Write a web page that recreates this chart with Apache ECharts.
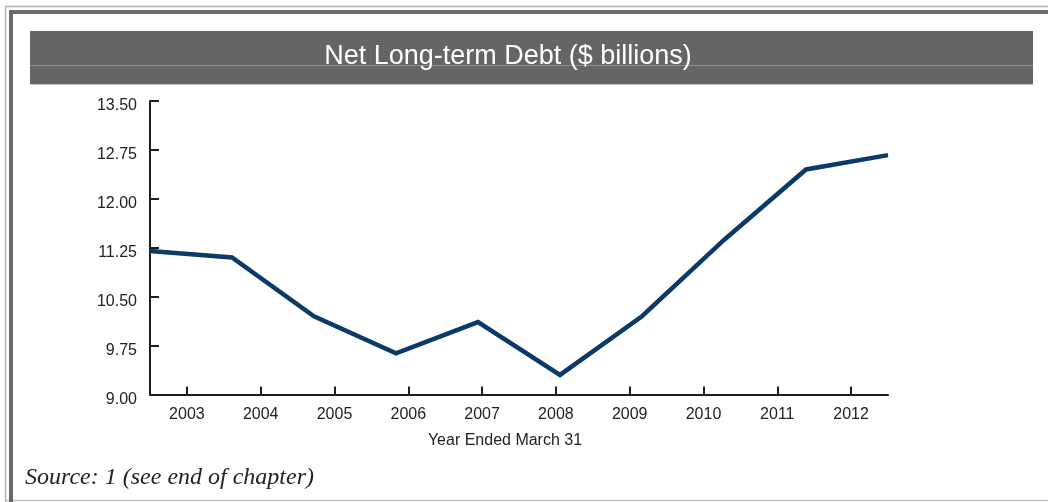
<!DOCTYPE html>
<html>
<head>
<meta charset="utf-8">
<style>
  html, body { margin: 0; padding: 0; background: #ffffff; }
  #chart { width: 1048px; height: 502px; }
</style>
<script src="https://cdn.jsdelivr.net/npm/echarts@6/dist/echarts.min.js"></script>
</head>
<body>
<div id="chart"></div>
<script>
// Fiscal years (year ended March 31)
const years = ['2003', '2004', '2005', '2006', '2007', '2008', '2009', '2010', '2011', '2012'];
// Net long-term debt, $ billions
const netDebt = [11.20, 11.10, 10.20, 9.63, 10.11, 9.30, 10.20, 11.37, 12.45, 12.67];
// Value axis range and step
const yMin = 9.00;
const yMax = 13.50;
const yStep = 0.75;

const titleText = 'Net Long-term Debt ($ billions)';
const axisTitle = 'Year Ended March 31';
const sourceText = 'Source: 1 (see end of chapter)';

const chart = echarts.init(document.getElementById('chart'), null, { renderer: 'canvas' });

const axisColor = '#1e1e1e';
const labelColor = '#222222';
const sansFont = '"Liberation Sans", Arial, Helvetica, sans-serif';

chart.setOption({
  animation: false,
  backgroundColor: '#ffffff',
  grid: { left: 150, right: 160, top: 101, bottom: 107.5, containLabel: false },
  xAxis: [
    {
      // visible axis: labels and ticks centred in each year band
      type: 'category',
      data: years,
      boundaryGap: true,
      axisLine: { show: true, lineStyle: { color: axisColor, width: 2 } },
      axisTick: { show: true, inside: true, alignWithLabel: true, length: 8, lineStyle: { color: axisColor, width: 2 } },
      axisLabel: { color: labelColor, fontSize: 16, fontFamily: sansFont, margin: 12 },
      splitLine: { show: false }
    },
    {
      // line series spans the full width, one point per year
      type: 'category',
      data: years,
      boundaryGap: false,
      show: false,
      position: 'bottom'
    }
  ],
  yAxis: {
    type: 'value',
    min: yMin,
    max: yMax,
    interval: yStep,
    axisLine: { show: true, lineStyle: { color: axisColor, width: 2 } },
    axisTick: { show: true, inside: true, length: 9, lineStyle: { color: axisColor, width: 2 } },
    axisLabel: {
      color: labelColor, fontSize: 16, fontFamily: sansFont, margin: 13,
      verticalAlign: 'top', lineHeight: 10,
      formatter: v => v.toFixed(2)
    },
    splitLine: { show: false }
  },
  series: [
    {
      type: 'line',
      xAxisIndex: 1,
      data: netDebt,
      symbol: 'none',
      lineStyle: { color: '#0b3a67', width: 4.5, join: 'miter' },
      z: 1
    }
  ],
  graphic: [
    // page frame: thin outer rule and heavier inner rule
    { type: 'line', shape: { x1: 5.5, y1: 6, x2: 5.5, y2: 502 }, style: { stroke: '#b4b4b4', lineWidth: 1.5 }, silent: true },
    { type: 'line', shape: { x1: 5, y1: 6.5, x2: 1048, y2: 6.5 }, style: { stroke: '#b4b4b4', lineWidth: 1.5 }, silent: true },
    { type: 'line', shape: { x1: 5, y1: 500.5, x2: 1048, y2: 500.5 }, style: { stroke: '#c4c4c4', lineWidth: 1.5 }, silent: true },
    { type: 'line', shape: { x1: 11, y1: 10, x2: 11, y2: 502 }, style: { stroke: '#6b6b6b', lineWidth: 4 }, silent: true },
    { type: 'line', shape: { x1: 9, y1: 12, x2: 1048, y2: 12 }, style: { stroke: '#6b6b6b', lineWidth: 4 }, silent: true },
    // title banner
    { type: 'rect', shape: { x: 30, y: 31, width: 1003, height: 53 }, style: { fill: '#656565' }, silent: true, z: 0 },
    { type: 'line', shape: { x1: 30, y1: 84.5, x2: 1033, y2: 84.5 }, style: { stroke: '#c2c2c2', lineWidth: 1 }, silent: true },
    { type: 'line', shape: { x1: 30, y1: 65.5, x2: 1033, y2: 65.5 }, style: { stroke: '#8e8e8e', lineWidth: 1 }, silent: true },
    {
      type: 'text', x: 508, y: 57, silent: true, z: 10,
      style: { text: titleText, fill: '#ffffff', font: '27px ' + sansFont, textAlign: 'center', textVerticalAlign: 'middle' }
    },
    // x-axis title
    {
      type: 'text', x: 505, y: 441, silent: true,
      style: { text: axisTitle, fill: labelColor, font: '16px ' + sansFont, textAlign: 'center', textVerticalAlign: 'middle' }
    },
    // source note
    {
      type: 'text', x: 25, y: 478, silent: true,
      style: { text: sourceText, fill: '#222222', font: 'italic 24px "Liberation Serif", "Times New Roman", serif', textAlign: 'left', textVerticalAlign: 'middle' }
    }
  ]
});
</script>
</body>
</html>
